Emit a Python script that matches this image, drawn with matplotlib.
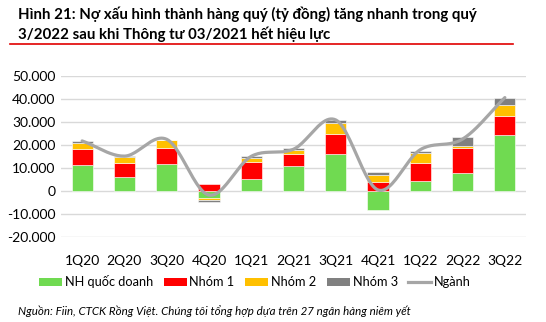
import numpy as np
import matplotlib
matplotlib.use("Agg")
import matplotlib.pyplot as plt
from matplotlib.patches import Patch
from matplotlib.lines import Line2D

plt.rcParams['font.family'] = ['Lato', 'DejaVu Sans']

quarters = ["1Q20", "2Q20", "3Q20", "4Q20", "1Q21", "2Q21", "3Q21", "4Q21", "1Q22", "2Q22", "3Q22"]
nh_quoc_doanh = [11100, 6100, 11600, -2900, 5100, 10800, 16000, -8100, 4500, 7700, 24100]
nhom_1 = [7200, 6100, 7200, 2800, 7600, 5200, 8900, 4000, 7500, 11100, 8500]
nhom_2 = [2500, 2700, 3200, -1200, 1500, 1900, 4600, 2900, 4500, 900, 4500]
nhom_3 = [900, 200, 300, -900, 800, 700, 1300, 1200, 1000, 3700, 3200]
nganh = [21700, 15100, 22400, -1800, 15000, 18100, 30800, 400, 17900, 22500, 40500]
y_ticks = [-20000, -10000, 0, 10000, 20000, 30000, 40000, 50000]

series = [
    ("NH quốc doanh", nh_quoc_doanh, "#70DA51"),
    ("Nhóm 1", nhom_1, "#FF0000"),
    ("Nhóm 2", nhom_2, "#FFC000"),
    ("Nhóm 3", nhom_3, "#808080"),
]
line_color = "#A6A6A6"

W, H = 546, 322
fig = plt.figure(figsize=(W / 100, H / 100), dpi=100)
ax = fig.add_axes([61 / W, 1 - 237 / H, (526 - 61) / W, (237 - 75.7) / H])

x = np.arange(len(quarters))
pos_base = np.zeros(len(quarters))
neg_base = np.zeros(len(quarters))
for name, vals, color in series:
    v = np.array(vals, dtype=float)
    base = np.where(v >= 0, pos_base, neg_base)
    ax.bar(x, v, width=0.5, bottom=base, color=color, edgecolor="white",
           linewidth=0.4, zorder=2)
    pos_base = pos_base + np.where(v >= 0, v, 0)
    neg_base = neg_base + np.where(v < 0, v, 0)


def catmull_rom(px, py, n=24):
    px = np.asarray(px, float)
    py = np.asarray(py, float)
    P = np.column_stack([px, py])
    P = np.vstack([2 * P[0] - P[1], P, 2 * P[-1] - P[-2]])
    out = []
    t = np.linspace(0, 1, n, endpoint=False)[:, None]
    for i in range(1, len(P) - 2):
        p0, p1, p2, p3 = P[i - 1], P[i], P[i + 1], P[i + 2]
        m1 = (p2 - p0) / 2
        m2 = (p3 - p1) / 2
        h00 = 2 * t**3 - 3 * t**2 + 1
        h10 = t**3 - 2 * t**2 + t
        h01 = -2 * t**3 + 3 * t**2
        h11 = t**3 - t**2
        out.append(h00 * p1 + h10 * m1 + h01 * p2 + h11 * m2)
    out.append(P[-2][None, :])
    C = np.vstack(out)
    return C[:, 0], C[:, 1]


sx, sy = catmull_rom(x, nganh)
ax.plot(sx, sy, color=line_color, linewidth=2.3, solid_capstyle="round", zorder=3)

ax.set_xlim(-0.5, len(quarters) - 0.5)
ax.set_ylim(-20000, 50000)
ax.set_yticks(y_ticks)
ax.set_yticklabels([f"{v:,}".replace(",", ".") for v in y_ticks])
ax.set_xticks(x)
ax.set_xticklabels(quarters)
ax.yaxis.grid(True, color="#D9D9D9", linewidth=1.0, zorder=0)
ax.set_axisbelow(True)
for s in ax.spines.values():
    s.set_visible(False)
ax.tick_params(axis="both", length=0, labelsize=10, colors="#000000")
ax.tick_params(axis="y", pad=4)
ax.tick_params(axis="x", pad=13)

# title
fig.text(18 / W, 1 - 7 / H, "Hình 21: Nợ xấu hình thành hàng quý (tỷ đồng) tăng nhanh trong quý\n3/2022 sau khi Thông tư 03/2021 hết hiệu lực",
         ha="left", va="top", fontsize=10.8, fontweight="bold", linespacing=1.3)
fig.add_artist(Line2D([10 / W, 513 / W], [1 - 44 / H, 1 - 44 / H], color="#E00000", linewidth=1.2))

handles = [Patch(facecolor=c, edgecolor="none", label=n) for n, _, c in series]
handles.append(Line2D([], [], color=line_color, linewidth=2.3, label="Ngành"))
fig.legend(handles=handles, loc="center", bbox_to_anchor=(255 / W, 1 - 282 / H), ncol=5,
           frameon=False, fontsize=9.2, handlelength=1.8, handleheight=0.5,
           handletextpad=0.2, columnspacing=0.85, borderaxespad=0)

fig.text(18 / W, 1 - 311 / H, "Nguồn: Fiin, CTCK Rồng Việt. Chúng tôi tổng hợp dựa trên 27 ngân hàng niêm yết",
         ha="left", va="center", fontsize=8.3, style="italic")

fig.savefig("out.png", dpi=100)
